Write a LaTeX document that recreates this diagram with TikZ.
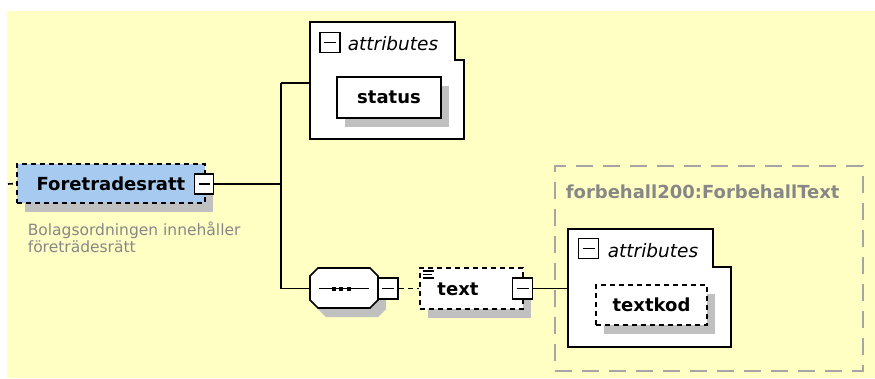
\documentclass[tikz,border=0pt]{standalone}
\usepackage{fontspec}
\setmainfont{DejaVu Sans}
\usetikzlibrary{shadows}
\definecolor{bgyellow}{RGB}{255,255,196}
\definecolor{elblue}{RGB}{166,202,240}
\definecolor{shgray}{RGB}{192,192,192}
\definecolor{dgray}{RGB}{165,165,165}
\definecolor{txtgray}{RGB}{135,135,135}
\begin{document}
\begin{tikzpicture}[x=1pt,y=-1pt,line width=1.6pt,
  shd/.style={drop shadow={shadow xshift=8pt,shadow yshift=-9pt,fill=shgray,opacity=1}},
  bold/.style={font=\bfseries\fontsize{18}{20}\selectfont},
  elembox/.style={draw,dash pattern=on 5pt off 4pt,inner sep=0,shd,bold},
  plainbox/.style={draw,inner sep=0,shd,bold,fill=white},
  minus/.style={draw,solid,fill=white,minimum width=19pt,minimum height=20pt,inner sep=0,
    path picture={\draw[line width=1.8pt] ([xshift=4pt]path picture bounding box.west) -- ([xshift=-4pt]path picture bounding box.east);}},
  attrlbl/.style={font=\itshape\fontsize{18.5}{20}\selectfont,inner sep=0,anchor=west},
  desc/.style={font=\fontsize{15.5}{17}\selectfont,text=txtgray,inner sep=0,anchor=base west},
  holder/.style={inner sep=0}
]
\useasboundingbox (0,0) rectangle (875,378);
\fill[bgyellow] (7,11) rectangle (875,378);

% main element
\node[elembox,fill=elblue,minimum width=188pt,minimum height=39pt] (main) at (111,183.5) {Foretradesratt};
\node[minus] (mainm) at (204,184) {};
\node[desc] (desc1) at (27,235) {Bolagsordningen innehåller};
\node[desc] (desc2) at (27,252) {företrädesrätt};
\coordinate (lft) at (8,184);

% junction coordinates
\coordinate (j1) at (281,83);
\coordinate (j2) at (281,288.5);

% attributes box 1
\node[holder,minimum width=154pt,minimum height=117pt] (attr1) at (387,80.5) {};
\draw[fill=white] (310,22) -- (455,22) -- (455,60) -- (464,60) -- (464,139) -- (310,139) -- cycle;
\node[minus,minimum width=20pt,minimum height=20pt] (a1m) at (330,42.5) {};
\node[attrlbl] (a1t) at (347,44) {attributes};
\node[plainbox,minimum width=104pt,minimum height=41pt] (status) at (389,97.5) {status};

% sequence compositor
\node[holder,minimum width=68pt,minimum height=40pt] (seq) at (344,288.5) {};
\fill[shgray,shift={(8,9)}] (318,268) -- (370,268) -- (378,276) -- (378,300) -- (370,308) -- (318,308) -- (310,300) -- (310,276) -- cycle;
\draw[fill=white] (318,268) -- (370,268) -- (378,276) -- (378,300) -- (370,308) -- (318,308) -- (310,300) -- (310,276) -- cycle;
\draw (319,288.5) -- (369,288.5);
\fill (331.5,286.5) rectangle (335.5,290.5);
\fill (339,286.5) rectangle (343,290.5);
\fill (346.5,286.5) rectangle (350.5,290.5);
\node[minus,minimum width=20pt,minimum height=21pt] (seqm) at (388,288.5) {};

% text element
\node[elembox,fill=white,minimum width=103pt,minimum height=41pt] (textel) at (471.5,288.5) {};
\node[inner sep=0,bold] (textlab) at (458,289) {text};
\draw[line width=1.2pt] (423,271) -- (434,271);
\draw[line width=1.2pt] (423,274.5) -- (432,274.5);
\draw[line width=1.2pt] (423,278) -- (434,278);
\node[minus,minimum width=20pt,minimum height=21pt] (textm) at (522.5,288.5) {};

% complex type
\node[draw=dgray,line width=2pt,dash pattern=on 17pt off 10pt,minimum width=308pt,minimum height=205pt,inner sep=0] (ctype) at (709,268.5) {};
\node[inner sep=0,anchor=west,text=txtgray,bold] (ctlab) at (565,192) {forbehall200:ForbehallText};

% attributes box 2
\node[holder,minimum width=163pt,minimum height=118pt] (attr2) at (649.5,288.5) {};
\draw[fill=white] (568,229) -- (713,229) -- (713,267) -- (731,267) -- (731,347) -- (568,347) -- cycle;
\node[minus,minimum width=20pt,minimum height=20pt] (a2m) at (588.5,248.5) {};
\node[attrlbl] (a2t) at (607,251) {attributes};
\node[elembox,fill=white,minimum width=111pt,minimum height=40pt] (textkod) at (651.5,305) {textkod};

% connectors
\draw[dash pattern=on 5pt off 3pt] (lft) -- (main.west);
\draw (mainm.east) -- (mainm.east -| j1);
\draw (j1) -- (j2);
\draw (j1) -- (attr1.west |- j1);
\draw (j2) -- (seq.west);
\draw[dash pattern=on 5pt off 4pt] (seqm.east) -- (textel.west);
\draw (textm.east) -- (attr2.west |- textm.east);
\end{tikzpicture}
\end{document}
